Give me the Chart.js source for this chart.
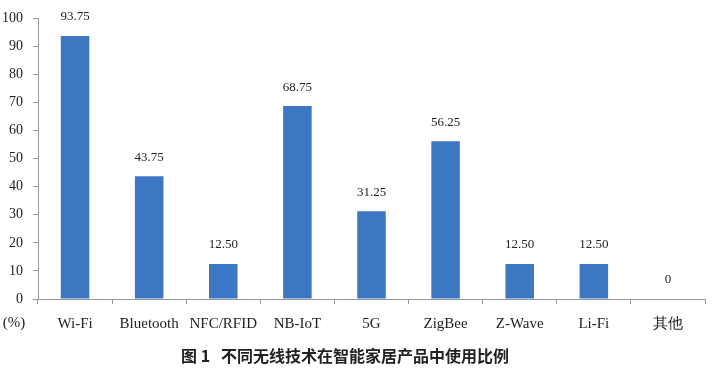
<!DOCTYPE html>
<html>
<head>
<meta charset="utf-8">
<script src="https://cdn.jsdelivr.net/npm/chart.js@4/dist/chart.umd.min.js"></script>
<style>
  html, body { margin: 0; padding: 0; background: #fff; }
  .container { width: 713px; height: 379px; position: relative; }
</style>
</head>
<body>
<div class="container">
  <canvas id="myChart" width="713" height="379"></canvas>
</div>
<script>
const categories = ["Wi-Fi", "Bluetooth", "NFC/RFID", "NB-IoT", "5G", "ZigBee", "Z-Wave", "Li-Fi", "其他"];
const shares = [93.75, 43.75, 12.50, 68.75, 31.25, 56.25, 12.50, 12.50, 0];
const yTicks = [0, 10, 20, 30, 40, 50, 60, 70, 80, 90, 100];
const unitLabel = "(%)";
const caption = "图 1   不同无线技术在智能家居产品中使用比例";

const serif = "'Liberation Serif', 'Times New Roman', serif";

// value labels above bars
const valueLabels = {
    id: "valueLabels",
    afterDatasetsDraw(chart) {
        const ctx = chart.ctx;
        const meta = chart.getDatasetMeta(0);
        ctx.save();
        ctx.font = "13px " + serif;
        ctx.fillStyle = "#222";
        ctx.textAlign = "center";
        ctx.textBaseline = "middle";
        meta.data.forEach((bar, i) => {
            const v = shares[i];
            const txt = v === 0 ? "0" : v.toFixed(2);
            ctx.fillText(txt, bar.x, bar.y - 19);
        });
        ctx.restore();
    }
};

// "(%)" under the y axis and the figure caption
const extraText = {
    id: "extraText",
    afterDraw(chart) {
        const ctx = chart.ctx;
        const area = chart.chartArea;
        ctx.save();
        ctx.fillStyle = "#222";
        ctx.textAlign = "center";
        ctx.textBaseline = "middle";
        ctx.font = "15px " + serif;
        ctx.fillText(unitLabel, 14, area.bottom + 24);
        ctx.font = "bold 16px 'Noto Sans CJK SC', sans-serif";
        ctx.fillText(caption, 345, 356);
        ctx.restore();
    }
};

const ctx = document.getElementById("myChart");
new Chart(ctx, {
    type: "bar",
    data: {
        labels: categories,
        datasets: [
            {
                label: "比例",
                data: shares,
                backgroundColor: "#3d77c4",
                borderWidth: 0,
                barPercentage: 0.385,
                categoryPercentage: 1.0
            }
        ]
    },
    options: {
        responsive: false,
        animation: false,
        layout: { padding: { top: 15, right: 8, left: 0, bottom: 40 } },
        plugins: {
            legend: { display: false },
            tooltip: { enabled: false }
        },
        scales: {
            x: {
                grid: { display: true, drawOnChartArea: false, offset: true, tickLength: 5, color: "#999" },
                border: { color: "#999", width: 1 },
                ticks: { color: "#222", font: { family: serif, size: 15 }, padding: 11, maxRotation: 0, autoSkip: false },
                afterFit(scale) { scale.height = 40; }
            },
            y: {
                min: 0,
                max: 100,
                afterBuildTicks(scale) { scale.ticks = yTicks.map(v => ({ value: v })); },
                grid: { display: true, drawOnChartArea: false, tickLength: 5, color: "#999" },
                border: { color: "#999", width: 1 },
                ticks: { color: "#222", font: { family: serif, size: 14 }, padding: 10 },
                afterFit(scale) { scale.width = 38; }
            }
        }
    },
    plugins: [valueLabels, extraText]
});
</script>
</body>
</html>
